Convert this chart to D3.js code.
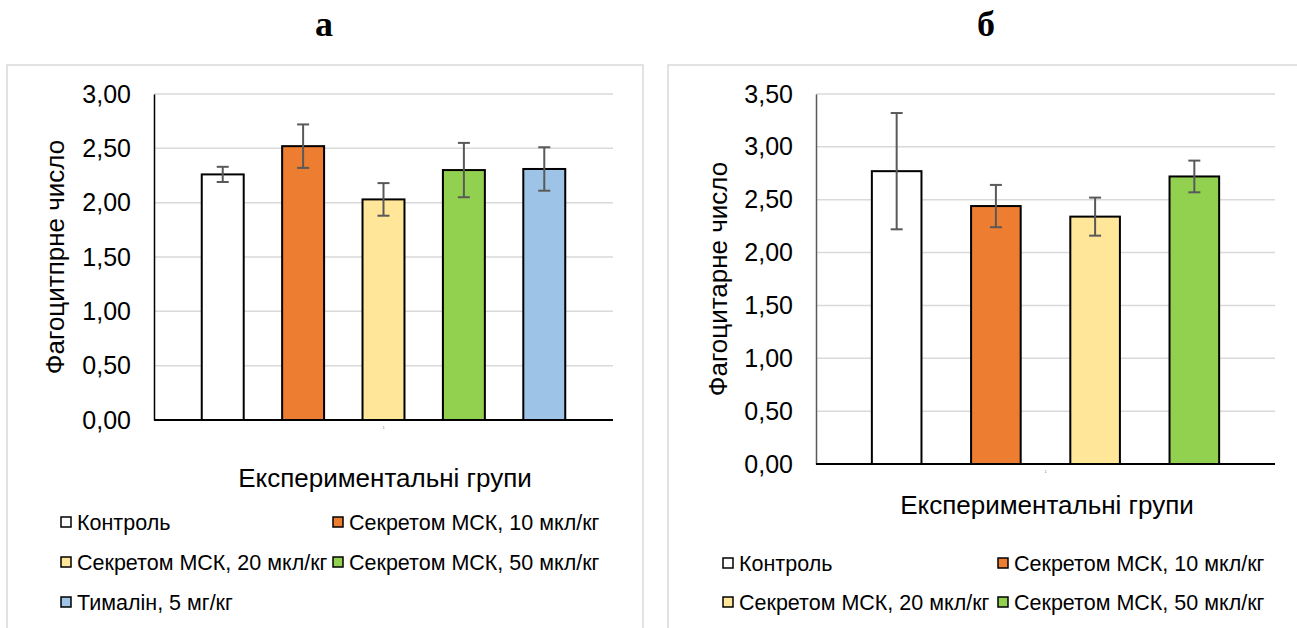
<!DOCTYPE html>
<html>
<head>
<meta charset="utf-8">
<script src="https://cdn.jsdelivr.net/npm/d3@7"></script>
<style>
  body { margin: 0; background: #ffffff; }
  svg { display: block; font-family: "Liberation Sans", Arial, sans-serif; }
</style>
</head>
<body>
<svg id="chart" width="1297" height="628"></svg>
<script>
// panel a
var groupsA = ['Контроль', 'Секретом МСК, 10 мкл/кг', 'Секретом МСК, 20 мкл/кг', 'Секретом МСК, 50 мкл/кг', 'Тималін, 5 мг/кг'];
var valuesA = [2.26, 2.52, 2.03, 2.30, 2.31];
var errorsA = [0.07, 0.20, 0.15, 0.25, 0.20];
var ticksA = [0, 0.5, 1, 1.5, 2, 2.5, 3];

// panel b
var groupsB = ['Контроль', 'Секретом МСК, 10 мкл/кг', 'Секретом МСК, 20 мкл/кг', 'Секретом МСК, 50 мкл/кг'];
var valuesB = [2.77, 2.44, 2.34, 2.72];
var errorsB = [0.55, 0.20, 0.18, 0.15];
var ticksB = [0, 0.5, 1, 1.5, 2, 2.5, 3, 3.5];

var colors = ['#ffffff', '#ed7d31', '#ffe699', '#92d050', '#9dc3e6'];
var fmt = function(v) { return d3.format('.2f')(v).replace('.', ','); };

var svg = d3.select('#chart');

function drawPanel(opts) {
  var g = svg.append('g');

  // outer chart-area border
  g.append('rect')
    .attr('x', opts.box[0]).attr('y', opts.box[1])
    .attr('width', opts.box[2]).attr('height', opts.box[3])
    .attr('fill', 'none').attr('stroke', '#d9d9d9').attr('stroke-width', 1.5);

  g.append('text')
    .attr('x', opts.titleX).attr('y', 36)
    .attr('text-anchor', 'middle')
    .attr('font-family', '"Liberation Serif", "Times New Roman", serif')
    .attr('font-weight', 'bold').attr('font-size', '36px')
    .text(opts.title);

  var y = d3.scaleLinear().domain([0, opts.max]).range([opts.bottom, opts.top]);
  // one category ("1") holding every series side by side
  var x = d3.scaleBand().domain(opts.groups)
    .range([opts.left, opts.right])
    .paddingInner(opts.padIn).paddingOuter(opts.padOut);

  g.selectAll('line.grid')
      .data(opts.ticks.filter(function(t) { return t > 0; }))
    .enter().append('line')
      .attr('class', 'grid')
      .attr('x1', opts.left).attr('x2', opts.right)
      .attr('y1', function(d) { return y(d); }).attr('y2', function(d) { return y(d); })
      .attr('stroke', '#d9d9d9').attr('stroke-width', 1.5);

  var yAxis = g.append('g')
    .attr('transform', 'translate(' + opts.left + ',0)')
    .call(d3.axisLeft(y).tickValues(opts.ticks).tickFormat(fmt).tickSize(0).tickPadding(23));
  yAxis.select('.domain').attr('stroke', opts.yAxisColor).attr('stroke-width', 1.5);
  yAxis.selectAll('text')
    .attr('font-size', '25px').attr('fill', '#000')
    .attr('font-family', '"Liberation Sans", Arial, sans-serif');

  g.selectAll('rect.bar')
      .data(opts.values)
    .enter().append('rect')
      .attr('class', 'bar')
      .attr('x', function(d, i) { return x(opts.groups[i]); })
      .attr('y', function(d) { return y(d); })
      .attr('width', x.bandwidth())
      .attr('height', function(d) { return y(0) - y(d); })
      .attr('fill', function(d, i) { return colors[i]; })
      .attr('stroke', '#000').attr('stroke-width', 2);

  g.append('line')
    .attr('x1', opts.left).attr('x2', opts.right)
    .attr('y1', y(0)).attr('y2', y(0))
    .attr('stroke', '#000').attr('stroke-width', 2);

  // error bars
  var err = g.selectAll('g.err')
      .data(opts.values)
    .enter().append('g')
      .attr('class', 'err')
      .attr('stroke', '#595959').attr('stroke-width', 2);
  err.append('line')
    .attr('x1', function(d, i) { return x(opts.groups[i]) + x.bandwidth() / 2; })
    .attr('x2', function(d, i) { return x(opts.groups[i]) + x.bandwidth() / 2; })
    .attr('y1', function(d, i) { return y(d + opts.errors[i]); })
    .attr('y2', function(d, i) { return y(d - opts.errors[i]); });
  [1, -1].forEach(function(s) {
    err.append('line')
      .attr('x1', function(d, i) { return x(opts.groups[i]) + x.bandwidth() / 2 - 6; })
      .attr('x2', function(d, i) { return x(opts.groups[i]) + x.bandwidth() / 2 + 6; })
      .attr('y1', function(d, i) { return y(d + s * opts.errors[i]); })
      .attr('y2', function(d, i) { return y(d + s * opts.errors[i]); });
  });

  // tiny category label
  g.append('text')
    .attr('x', (opts.left + opts.right) / 2).attr('y', opts.bottom + 9)
    .attr('text-anchor', 'middle').attr('font-size', '4px').attr('fill', '#7f7f7f')
    .text('1');

  g.append('text')
    .attr('transform', 'translate(' + opts.yTitle[0] + ',' + opts.yTitle[1] + ') rotate(-90)')
    .attr('text-anchor', 'middle').attr('dominant-baseline', 'central')
    .attr('font-size', '26px')
    .text(opts.yLabel);

  g.append('text')
    .attr('x', opts.xTitle[0]).attr('y', opts.xTitle[1])
    .attr('text-anchor', 'middle').attr('dominant-baseline', 'central')
    .attr('font-size', '26px')
    .text('Експериментальні групи');

  var legend = g.selectAll('g.legend')
      .data(opts.groups)
    .enter().append('g')
      .attr('class', 'legend')
      .attr('transform', function(d, i) {
        return 'translate(' + opts.legendCols[i % 2] + ',' + opts.legendRows[Math.floor(i / 2)] + ')';
      });
  legend.append('rect')
    .attr('x', 0).attr('y', -5).attr('width', 10).attr('height', 10)
    .attr('fill', function(d, i) { return colors[i]; })
    .attr('stroke', '#000').attr('stroke-width', 1.5);
  legend.append('text')
    .attr('x', 16).attr('y', 1)
    .attr('dominant-baseline', 'central')
    .attr('font-size', '21.5px')
    .text(function(d) { return d; });
}

drawPanel({
  title: 'а', titleX: 324,
  box: [7, 65, 636, 570],
  groups: groupsA, values: valuesA, errors: errorsA, ticks: ticksA, max: 3,
  top: 94, bottom: 420, left: 154, right: 613,
  padIn: 0.478, padOut: 0.594,
  yAxisColor: '#000',
  yLabel: 'Фагоцитпрне число', yTitle: [55, 257],
  xTitle: [385, 478],
  legendCols: [61, 333], legendRows: [522, 562, 602]
});

drawPanel({
  title: 'б', titleX: 986,
  box: [668, 65, 640, 570],
  groups: groupsB, values: valuesB, errors: errorsB, ticks: ticksB, max: 3.5,
  top: 94, bottom: 464, left: 816, right: 1275,
  padIn: 0.5, padOut: 0.563,
  yAxisColor: '#595959',
  yLabel: 'Фагоцитарне число', yTitle: [718, 279],
  xTitle: [1047, 505],
  legendCols: [723, 998], legendRows: [563, 602]
});
</script>
</body>
</html>
